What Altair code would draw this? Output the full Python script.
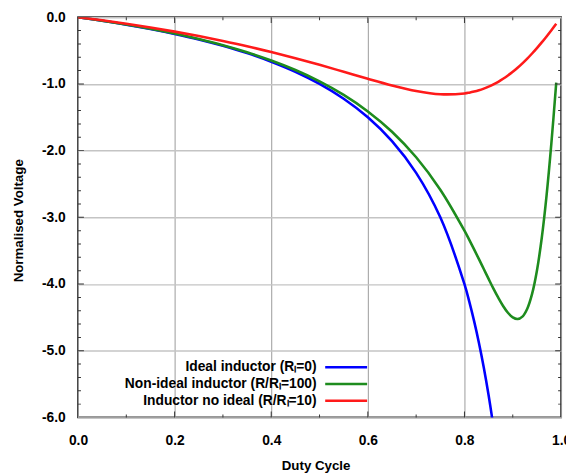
import altair as alt
import pandas as pd

# ---- data ----
duty = [0.00, 0.05, 0.10, 0.15, 0.20, 0.25, 0.30, 0.35, 0.40, 0.45, 0.50, 0.55,
        0.60, 0.65, 0.70, 0.75, 0.80, 0.81, 0.82, 0.83, 0.84, 0.85, 0.86, 0.87,
        0.88, 0.89, 0.90, 0.91, 0.92, 0.93, 0.94, 0.95, 0.96, 0.97, 0.98, 0.99]

ideal = [0.000, -0.053, -0.111, -0.176, -0.250, -0.333, -0.429, -0.538, -0.667,
         -0.818, -1.000, -1.222, -1.500, -1.857, -2.333, -3.000, -4.000, -4.263,
         -4.556, -4.882, -5.250, -5.667, -6.143, -6.692]

nonideal_100 = [0.000, -0.052, -0.110, -0.174, -0.246, -0.328, -0.420, -0.526, -0.649,
                -0.792, -0.962, -1.165, -1.412, -1.717, -2.100, -2.586, -3.200, -3.338,
                -3.481, -3.627, -3.775, -3.923, -4.068, -4.204, -4.328, -4.430, -4.500,
                -4.525, -4.488, -4.369, -4.147, -3.800, -3.310, -2.670, -1.885, -0.980]

nonideal_10 = [0.000, -0.047, -0.099, -0.155, -0.216, -0.283, -0.356, -0.435, -0.522,
               -0.615, -0.714, -0.818, -0.923, -1.022, -1.105, -1.154, -1.143, -1.131,
               -1.115, -1.095, -1.070, -1.041, -1.007, -0.968, -0.923, -0.873, -0.818,
               -0.758, -0.692, -0.621, -0.544, -0.463, -0.378, -0.288, -0.195, -0.099]

series_names = ["Ideal inductor (R\u2097=0)",
                "Non-ideal inductor (R/R\u2097=100)",
                "Inductor no ideal  (R/R\u2097=10)"]
series_colors = ["#0000ff", "#1e8c1e", "#ff1a1a"]

x_ticks = [0.0, 0.2, 0.4, 0.6, 0.8, 1.0]
y_ticks = [-6.0, -5.0, -4.0, -3.0, -2.0, -1.0, 0.0]
x_minor = [0.1, 0.2, 0.3, 0.4, 0.5, 0.6, 0.7, 0.8, 0.9]
y_minor = [-5.8, -5.6, -5.4, -5.2, -5.0, -4.8, -4.6, -4.4, -4.2, -4.0, -3.8, -3.6,
           -3.4, -3.2, -3.0, -2.8, -2.6, -2.4, -2.2, -2.0, -1.8, -1.6, -1.4, -1.2,
           -1.0, -0.8, -0.6, -0.4, -0.2]

# ---- tables ----
rows = []
for name, vals in zip(series_names, [ideal, nonideal_100, nonideal_10]):
    for d, v in zip(duty, vals):
        rows.append({"D": d, "V": v, "series": name})
df = pd.DataFrame(rows)

xt = pd.DataFrame({"pos": x_minor})
xt["len"] = [12 if abs(p * 5 - round(p * 5)) < 1e-6 else 6 for p in x_minor]
yt = pd.DataFrame({"pos": y_minor})
yt["len"] = [12 if abs(p - round(p)) < 1e-6 else 6 for p in y_minor]

x_scale = alt.Scale(domain=[0, 1], nice=False, zero=False)
y_scale = alt.Scale(domain=[-6, 0], nice=False, zero=False)
x_title = "Duty Cycle"
y_title = "Normalised Voltage"
label_expr = "(datum.value < 0 ? '-' : '') + format(abs(datum.value), '.1f')"
x_axis = alt.Axis(values=x_ticks, labelExpr=label_expr, labelFlush=False, labelPadding=16,
                  titlePadding=12, grid=True, gridColor="#9a9a9a", gridWidth=1,
                  titleX=241)
y_axis = alt.Axis(values=y_ticks, labelExpr=label_expr, labelPadding=13, titlePadding=16,
                  grid=True, gridColor="#c4c4c4", gridWidth=1.5, titleY=206)

lines = alt.Chart(df).mark_line(strokeWidth=2.6, clip=True, interpolate="catmull-rom").encode(
    x=alt.X("D:Q", scale=x_scale, title=x_title, axis=x_axis),
    y=alt.Y("V:Q", scale=y_scale, title=y_title, axis=y_axis),
    color=alt.Color("series:N",
                    scale=alt.Scale(domain=series_names, range=series_colors),
                    sort=series_names,
                    legend=alt.Legend(title=None, orient="none", legendX=262, legendY=345,
                                      symbolType="M-2.5,0H2.5", symbolSize=289,
                                      symbolStrokeWidth=2.6, labelAlign="right",
                                      labelOffset={"expr": "-40"}, labelFontSize=14,
                                      labelFontWeight="bold", labelLimit=400,
                                      labelFont="Liberation Sans", labelColor="#000",
                                      rowPadding=0, padding=0)),
    order=alt.Order("D:Q"),
)

tick_color = "#333333"

def xticks_at(yval):
    return alt.Chart(xt).mark_tick(orient="vertical", clip=True, thickness=1,
                                   color=tick_color, opacity=1).encode(
        x=alt.X("pos:Q", scale=x_scale, title=x_title, axis=x_axis),
        y=alt.YDatum(yval, scale=y_scale, title=y_title, axis=y_axis),
        size=alt.Size("len:Q", scale=None, legend=None),
    )

def yticks_at(xval):
    return alt.Chart(yt).mark_tick(orient="horizontal", clip=True, thickness=1,
                                   color=tick_color, opacity=1).encode(
        y=alt.Y("pos:Q", scale=y_scale, title=y_title, axis=y_axis),
        x=alt.XDatum(xval, scale=x_scale, title=x_title, axis=x_axis),
        size=alt.Size("len:Q", scale=None, legend=None),
    )

chart = alt.layer(
    lines, xticks_at(-6.0), xticks_at(0.0), yticks_at(0.0), yticks_at(1.0)
).properties(
    width=490, height=406,
    autosize=alt.AutoSizeParams(type="none"),
    padding={"left": 71, "top": 6, "right": 5, "bottom": 54},
).configure_view(
    stroke="#333333", strokeWidth=1.8
).configure_axis(
    domain=False, ticks=False,
    labelFont="Liberation Sans", labelFontSize=14, labelFontWeight="bold", labelColor="#000",
    titleFont="Liberation Sans", titleFontSize=13.5, titleFontWeight="bold",
    titleColor="#000",
)

chart.save("out.html", embed_options={"renderer": "svg", "actions": False})
